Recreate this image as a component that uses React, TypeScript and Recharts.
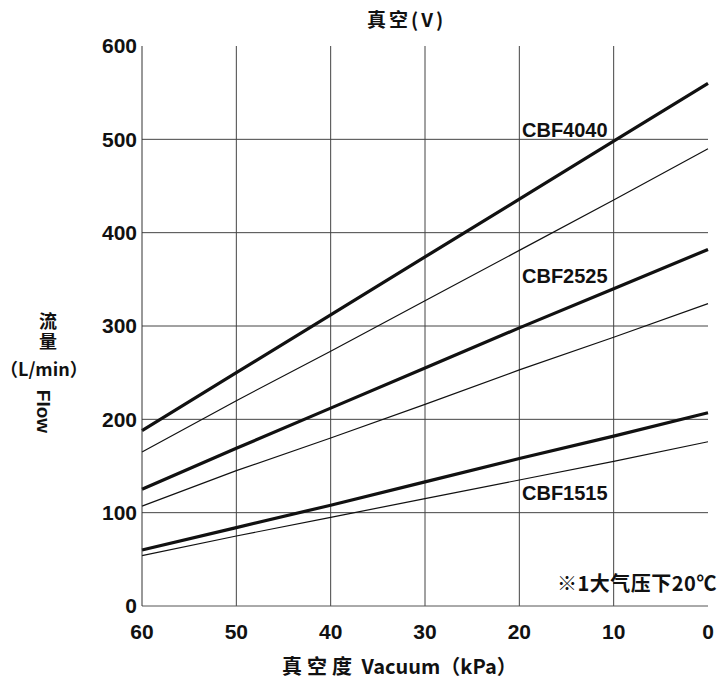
import React from 'react';
import { LineChart, Line, XAxis, YAxis, ReferenceLine } from 'recharts';

document.body.style.margin = '0';

const vacuum = [60, 50, 40, 30, 20, 10, 0];
const cbf4040Thick = [188, 250, 312, 374, 436, 498, 560];
const cbf4040Thin = [165, 220, 273, 327, 381, 435, 490];
const cbf2525Thick = [125, 169, 212, 255, 298, 340, 382];
const cbf2525Thin = [107, 145, 180, 216, 253, 288, 324];
const cbf1515Thick = [60, 84, 108, 133, 158, 182, 207];
const cbf1515Thin = [54, 75, 95, 115, 135, 155, 176];

const xTicks = [60, 50, 40, 30, 20, 10, 0];
const yTicks = [0, 100, 200, 300, 400, 500, 600];
const hGrid = [100, 200, 300, 400, 500];
const vGrid = [50, 40, 30, 20, 10];

const data = vacuum.map((v, i) => ({
  v,
  a1: cbf4040Thick[i],
  a2: cbf4040Thin[i],
  b1: cbf2525Thick[i],
  b2: cbf2525Thin[i],
  c1: cbf1515Thick[i],
  c2: cbf1515Thin[i],
}));

const FONT = '"Liberation Sans", Arial, "Noto Sans CJK SC", sans-serif';
const CJK = '"Noto Sans CJK SC", "Liberation Sans", sans-serif';

const tickStyle = { fontFamily: FONT, fontSize: 21, fontWeight: 700, fill: '#111' };

const abs = (left: number, top: number, extra: React.CSSProperties = {}): React.CSSProperties => ({
  position: 'absolute',
  left,
  top,
  lineHeight: 1,
  whiteSpace: 'nowrap',
  fontWeight: 700,
  color: '#111',
  ...extra,
});

export default function App() {
  return (
    <div style={{ position: 'relative', width: 722, height: 686, overflow: 'hidden', background: '#fff', fontFamily: FONT }}>
      <LineChart width={722} height={686} data={data} margin={{ top: 46, right: 14, left: 0, bottom: 40 }}>
        {hGrid.map((y) => (
          <ReferenceLine key={'h' + y} y={y} stroke="#444" strokeWidth={1} />
        ))}
        {vGrid.map((x) => (
          <ReferenceLine key={'v' + x} x={x} stroke="#444" strokeWidth={1} />
        ))}
        <XAxis
          dataKey="v"
          type="number"
          domain={[0, 60]}
          reversed
          ticks={xTicks}
          interval={0}
          height={40}
          tickLine={false}
          tickSize={6}
          tickMargin={12}
          axisLine={{ stroke: '#555', strokeWidth: 1 }}
          tick={tickStyle}
        />
        <YAxis
          type="number"
          domain={[0, 600]}
          ticks={yTicks}
          interval={0}
          width={142}
          tickLine={false}
          tickSize={4}
          tickMargin={1}
          axisLine={{ stroke: '#333', strokeWidth: 1 }}
          tick={tickStyle}
        />
        <Line dataKey="a1" stroke="#111" strokeWidth={3.2} dot={false} isAnimationActive={false} />
        <Line dataKey="a2" stroke="#111" strokeWidth={1.2} dot={false} isAnimationActive={false} />
        <Line dataKey="b1" stroke="#111" strokeWidth={3.2} dot={false} isAnimationActive={false} />
        <Line dataKey="b2" stroke="#111" strokeWidth={1.2} dot={false} isAnimationActive={false} />
        <Line dataKey="c1" stroke="#111" strokeWidth={3.2} dot={false} isAnimationActive={false} />
        <Line dataKey="c2" stroke="#111" strokeWidth={1.2} dot={false} isAnimationActive={false} />
      </LineChart>

      <div style={abs(367, 9, { fontFamily: CJK, fontSize: 19, letterSpacing: 3 })}>真空(V)</div>

      <div style={abs(522, 120, { fontSize: 20 })}>CBF4040</div>
      <div style={abs(522, 266, { fontSize: 20 })}>CBF2525</div>
      <div style={abs(522, 483, { fontSize: 20 })}>CBF1515</div>

      <div style={abs(557, 573, { fontFamily: CJK, fontSize: 20, letterSpacing: 0.5 })}>※1大气压下20℃</div>

      <div
        style={abs(39, 312, {
          fontFamily: CJK,
          fontSize: 18,
          letterSpacing: 2,
          writingMode: 'vertical-rl',
        })}
      >
        流量
      </div>
      <div style={abs(0, 359, { fontFamily: CJK, fontSize: 18 })}>（L/min）</div>
      <div
        style={abs(22, 402, {
          fontSize: 19,
          transform: 'rotate(90deg)',
          transformOrigin: 'center',
        })}
      >
        Flow
      </div>

      <div style={abs(282, 656, { fontSize: 20 })}>
        <span style={{ fontFamily: CJK, letterSpacing: 5 }}>真空度</span>
        <span style={{ fontFamily: CJK }}> Vacuum（kPa）</span>
      </div>
    </div>
  );
}
